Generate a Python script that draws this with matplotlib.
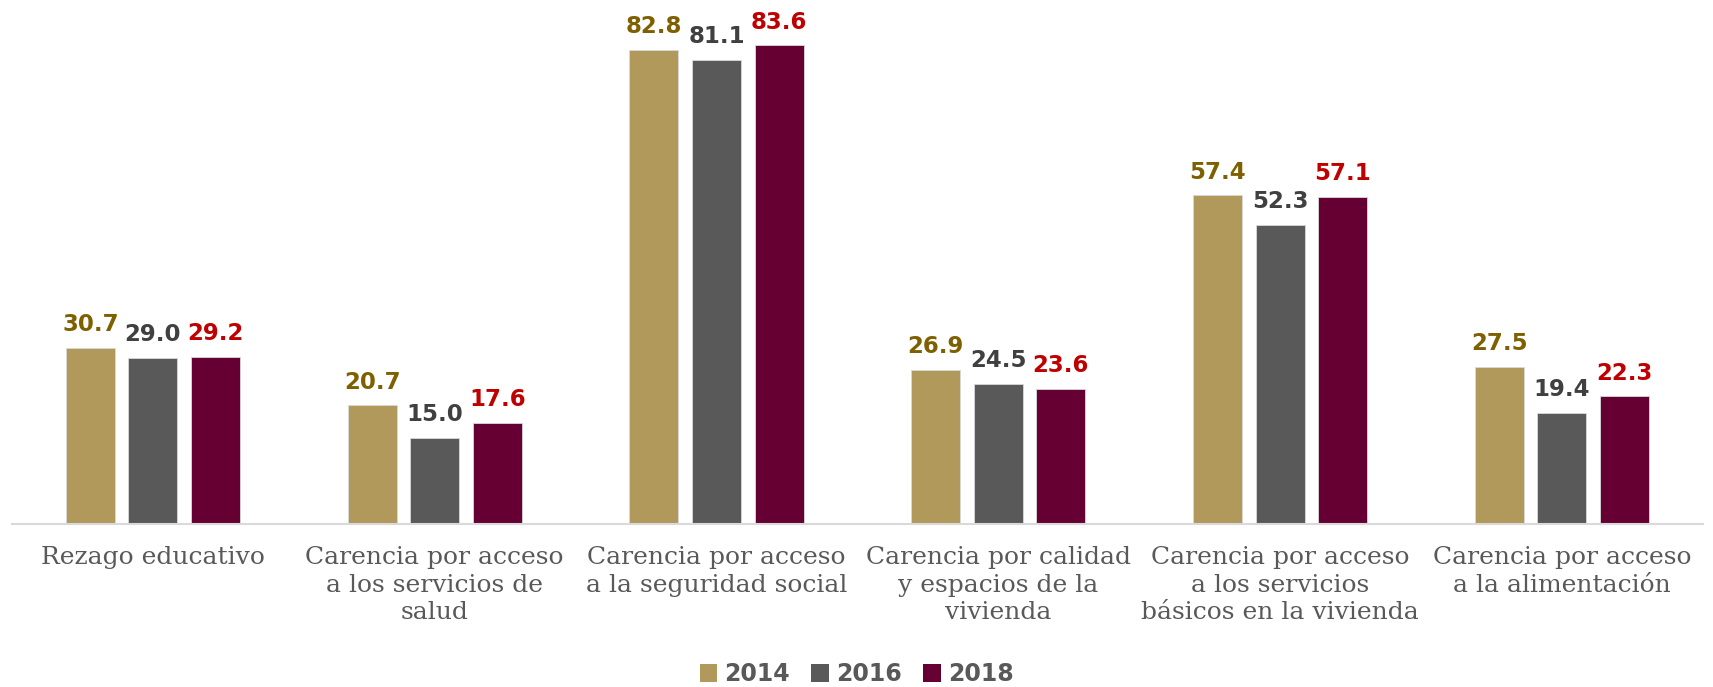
import matplotlib
matplotlib.use("Agg")
import matplotlib.pyplot as plt
from matplotlib.patches import Patch
import numpy as np

categories = [
    "Rezago educativo",
    "Carencia por acceso\na los servicios de\nsalud",
    "Carencia por acceso\na la seguridad social",
    "Carencia por calidad\ny espacios de la\nvivienda",
    "Carencia por acceso\na los servicios\nbásicos en la vivienda",
    "Carencia por acceso\na la alimentación",
]
years = ["2014", "2016", "2018"]
v2014 = [30.7, 20.7, 82.8, 26.9, 57.4, 27.5]
v2016 = [29.0, 15.0, 81.1, 24.5, 52.3, 19.4]
v2018 = [29.2, 17.6, 83.6, 23.6, 57.1, 22.3]

series = [v2014, v2016, v2018]
bar_colors = ["#B0995A", "#595959", "#660033"]
label_colors = ["#7F6000", "#404040", "#C00000"]

fig = plt.figure(figsize=(17.13, 6.87), dpi=100)
ax = fig.add_axes([0.007, 0.2373, 0.987, 0.75])

x = np.arange(len(categories))
w = 0.174
step = 0.222
for i, (vals, bc, lc) in enumerate(zip(series, bar_colors, label_colors)):
    pos = x + (i - 1) * step
    ax.bar(pos, vals, width=w, color=bc, edgecolor="#D9D9D9", linewidth=0.6)
    for xp, v in zip(pos, vals):
        ax.annotate(f"{v:.1f}", (xp, v), xytext=(0, 8.5), textcoords="offset points",
                    ha="center", va="bottom", fontsize=16.5, fontweight="bold",
                    color=lc, family="DejaVu Sans")

ax.set_xlim(-0.5, len(categories) - 0.5)
ax.set_ylim(0, 90)
for s in ["top", "right", "left"]:
    ax.spines[s].set_visible(False)
ax.spines["bottom"].set_color("#D9D9D9")
ax.spines["bottom"].set_linewidth(1.5)
ax.set_yticks([])
ax.set_xticks(x)
ax.set_xticklabels(categories, fontsize=18, color="#595959", family="DejaVu Serif",
                   linespacing=1.25, va="top")
ax.tick_params(axis="x", length=0, pad=16)

handles = [Patch(facecolor=c, edgecolor="none") for c in bar_colors]
leg = fig.legend(handles, years, loc="lower center", bbox_to_anchor=(0.5, -0.03), ncol=3,
                 frameon=False, handlelength=0.75, handleheight=0.75, handletextpad=0.3,
                 columnspacing=0.9, prop={"family": "DejaVu Sans", "weight": "bold", "size": 17})
for t in leg.get_texts():
    t.set_color("#595959")

fig.savefig("out.png", dpi=100)
